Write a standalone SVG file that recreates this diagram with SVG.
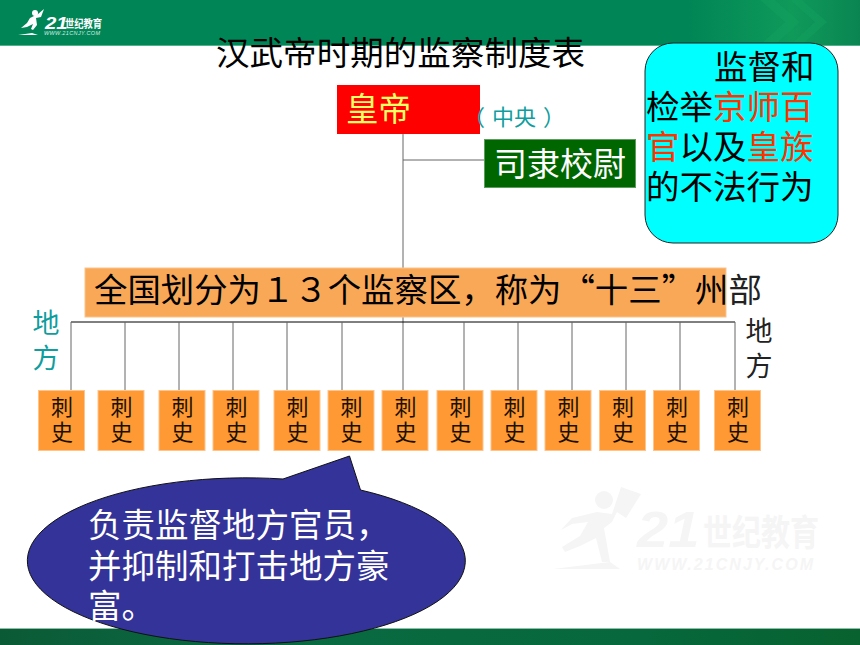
<svg xmlns="http://www.w3.org/2000/svg" width="860" height="645" viewBox="0 0 860 645">
<style>
text{font-family:"Noto Sans CJK SC","Liberation Sans",sans-serif}
.t{font-size:33.5px;fill:#000}
.w{fill:#fff}
.r{fill:#ff3300}
.c{font-size:22px;fill:#1a1000;writing-mode:vertical-rl;letter-spacing:3px}
.v{font-size:27px;writing-mode:vertical-rl;letter-spacing:8.5px}
.b{fill:#ff9933;stroke:#ffc48c;stroke-width:1}
.l{stroke:#666;stroke-width:1;fill:none}
.wm{fill:#f5f5f5}
.la{font-family:"Liberation Sans",sans-serif;font-weight:bold;font-style:italic}
</style>
<defs>
<linearGradient id="top" x1="0" x2="1" y1="0" y2="0"><stop offset="0" stop-color="#008556"/><stop offset=".8" stop-color="#008556"/><stop offset=".92" stop-color="#0f9a5a"/><stop offset="1" stop-color="#0a8552"/></linearGradient>
<linearGradient id="bot" x1="0" x2="1" y1="0" y2="0"><stop offset="0" stop-color="#0b5a36"/><stop offset=".3" stop-color="#0a6a42"/><stop offset=".75" stop-color="#06683c"/><stop offset="1" stop-color="#08622f"/></linearGradient>
</defs>
<rect width="860" height="645" fill="#fff"/>
<g id="watermark">
<circle class="wm" cx="604" cy="500" r="9"/>
<path class="wm" d="M621 487L641 494L626 518L617 512L612 522L604 528L610 562L602 562L596 538L580 546L565 552L562 547L580 536L588 522L572 524L561 530L572 518L597 512L612 514Z"/>
<path class="wm" d="M553 569L610 562L620 569Z"/>
<text class="wm la" transform="translate(637 547) scale(1.12 1)" style="font-size:50px">21</text>
<text class="wm" transform="translate(703 546) scale(1 1.25)" style="font-weight:bold;font-size:29px">世纪教育</text>
<text class="wm la" x="637" y="570" textLength="176" style="font-size:16px">WWW.21CNJY.COM</text>
</g>
<g id="header-band">
<rect width="860" height="45" fill="url(#top)"/>
<rect y="45" width="860" height="1" fill="#4fb08a"/>
<path d="M760 0L785 22L760 45H775L800 22L775 0ZM790 0L815 22L790 45H802L827 22L802 0Z" fill="#12a05e" opacity=".5"/>
</g>
<g id="footer-band">
<rect y="628" width="860" height="17" fill="url(#bot)"/>
<rect y="628" width="860" height="1" fill="#8fbfa8"/>
</g>
<g id="logo">
<circle cx="35" cy="13" r="3" fill="#fff"/>
<path d="M38 14L44 9L41 17L36 18L37 25L33 30L31 29L33 24L27 27L21 28L27 23L30 18ZM18 35L32 33L38 35Z" fill="#fff"/>
<text class="la" transform="translate(45 29) scale(1.2 1)" fill="#fff" style="font-size:17px">21</text>
<text transform="translate(65 28) scale(1 1.25)" fill="#fff" style="font-weight:bold;font-size:9.3px">世纪教育</text>
<text class="la" x="44" y="35" textLength="56" fill="#d8eee4" style="font-size:5.5px;font-weight:normal">WWW.21CNJY.COM</text>
</g>
<g id="title"><text class="t" x="216" y="65" textLength="369">汉武帝时期的监察制度表</text></g>
<g id="connectors">
<path class="l" d="M403 134V268M403 160H484M403 317V390"/>
<path d="M71 322H735" stroke="#000" stroke-width="1" fill="none"/>
<path class="l" d="M71 322V390M125 322V390M179 322V390M233 322V390M287 322V390M342 322V390M464 322V390M518 322V390M572 322V390M626 322V390M680 322V390M735 322V390"/>
</g>
<g id="emperor">
<rect x="337" y="85" width="143" height="49" fill="#ff0000"/>
<text x="346" y="121" style="font-size:32.5px;fill:#ffff66">皇帝</text>
</g>
<g id="central-label"><text x="463 492 514 543" y="125" style="font-size:22px;fill:#0f9d9d">（中央）</text></g>
<g id="sili">
<rect x="484.500" y="139.500" width="151" height="48" fill="#006600" stroke="#5c9c5c"/>
<text x="494" y="176" style="font-size:33px" class="w">司隶校尉</text>
</g>
<g id="note">
<rect x="645" y="43" width="193" height="200" rx="28" ry="28" fill="#00ffff" stroke="#222"/>
<text class="t" x="714" y="79">监督和</text>
<text class="t" x="646" y="119">检举<tspan class="r">京师百</tspan></text>
<text class="t" x="646" y="159"><tspan class="r">官</tspan>以及<tspan class="r">皇族</tspan></text>
<text class="t" x="646" y="199">的不法行为</text>
</g>
<g id="nation">
<rect x="85" y="268" width="641" height="49" fill="#f9a857" stroke="#fbc48c"/>
<text x="94" y="302" style="font-size:33.400px" fill="#000">全国划分为１３个监察区，称为“十三”州<tspan fill="#222">部</tspan></text>
</g>
<g id="local-left"><text class="v" x="46" y="309" fill="#0f9d9d">地方</text></g>
<g id="local-right"><text class="v" x="759" y="317" fill="#222">地方</text></g>
<g id="cishi-1"><rect class="b" x="38.500" y="390.500" width="46" height="60"/><text class="c" x="62" y="396">刺史</text></g>
<g id="cishi-2"><rect class="b" x="98" y="390.500" width="46" height="60"/><text class="c" x="121.500" y="396">刺史</text></g>
<g id="cishi-3"><rect class="b" x="159" y="390.500" width="46" height="60"/><text class="c" x="182.500" y="396">刺史</text></g>
<g id="cishi-4"><rect class="b" x="213" y="390.500" width="46" height="60"/><text class="c" x="236.500" y="396">刺史</text></g>
<g id="cishi-5"><rect class="b" x="274" y="390.500" width="46" height="60"/><text class="c" x="297.500" y="396">刺史</text></g>
<g id="cishi-6"><rect class="b" x="328" y="390.500" width="46" height="60"/><text class="c" x="351.500" y="396">刺史</text></g>
<g id="cishi-7"><rect class="b" x="382" y="390.500" width="46" height="60"/><text class="c" x="405.500" y="396">刺史</text></g>
<g id="cishi-8"><rect class="b" x="437" y="390.500" width="46" height="60"/><text class="c" x="460.500" y="396">刺史</text></g>
<g id="cishi-9"><rect class="b" x="491" y="390.500" width="46" height="60"/><text class="c" x="514.500" y="396">刺史</text></g>
<g id="cishi-10"><rect class="b" x="545" y="390.500" width="46" height="60"/><text class="c" x="568.500" y="396">刺史</text></g>
<g id="cishi-11"><rect class="b" x="599.500" y="390.500" width="46" height="60"/><text class="c" x="623" y="396">刺史</text></g>
<g id="cishi-12"><rect class="b" x="653.500" y="390.500" width="46" height="60"/><text class="c" x="677" y="396">刺史</text></g>
<g id="cishi-13"><rect class="b" x="714.500" y="390.500" width="46" height="60"/><text class="c" x="738" y="396">刺史</text></g>
<g id="callout">
<path d="M283 479L349.500 456L360.500 490A219 83 0 1 1 283 479Z" fill="#333399" stroke="#111"/>
<text class="t w"><tspan x="88" y="537">负责监督地方官员，</tspan><tspan x="88" y="578">并抑制和打击地方豪</tspan><tspan x="88" y="618">富。</tspan></text>
</g>
</svg>
